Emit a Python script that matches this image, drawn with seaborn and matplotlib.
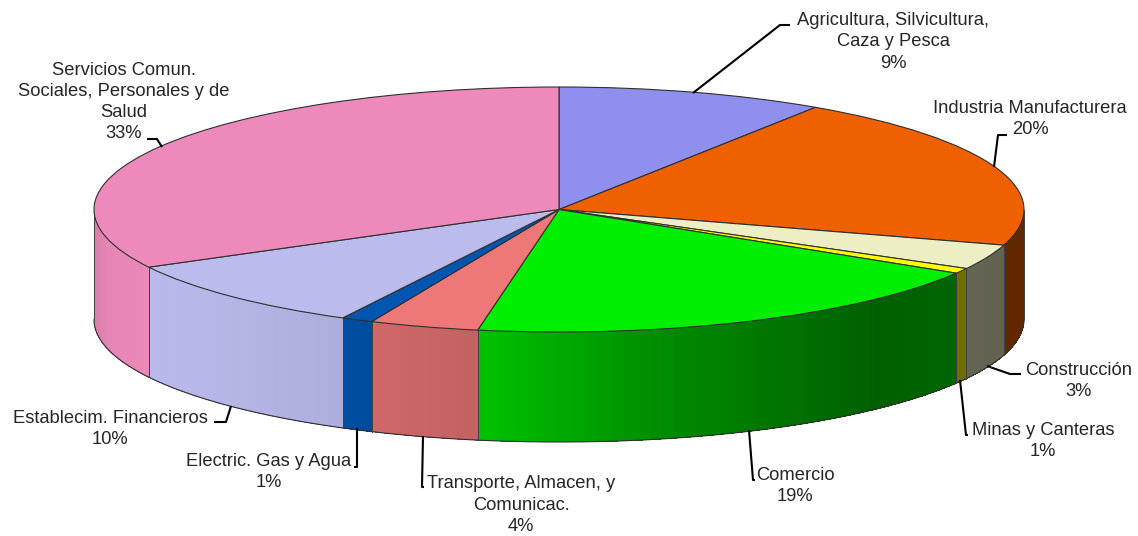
import numpy as np
import matplotlib
matplotlib.use('Agg')
import matplotlib.pyplot as plt
import seaborn as sns

# Share of each sector, clockwise from the top
sectors = ['Agricultura, Silvicultura,\nCaza y Pesca', 'Industria Manufacturera', 'Construcción',
           'Minas y Canteras', 'Comercio', 'Transporte, Almacen, y\nComunicac.',
           'Electric. Gas y Agua', 'Establecim. Financieros',
           'Servicios Comun.\nSociales, Personales y de\nSalud']
values = [9.3, 20.4, 3.3, 0.7, 19.1, 3.8, 1.1, 9.5, 32.8]
percent_labels = ['9%', '20%', '3%', '1%', '19%', '4%', '1%', '10%', '33%']
top_colors = ['#8F8FEE', '#EE6000', '#EEEEC4', '#FFFF00', '#00EE00', '#EE7777', '#0055B0', '#BBBBEE', '#EE8ABB']

# Label centres and leader lines, in pixels of the image
label_pos = [(893, 42), (1030, 119), (1079, 381), (1043, 441), (795, 486), (521, 505), (269, 472), (110, 429), (124, 102)]
leaders = [
    [(693, 93), (780, 25), (790, 25)],
    [(994, 167), (998, 135), (1007, 135)],
    [(987, 366), (1010, 374), (1021, 374)],
    [(960, 380), (966, 435), (968, 435)],
    [(749, 430), (753, 480), (755, 480)],
    [(423, 436), (422, 487), (424, 487)],
    [(357, 428), (357, 467), (354, 467)],
    [(231, 406), (226, 422), (214, 422)],
    [(162, 147), (157, 139), (147, 139)],
]

# Ellipse of the pie top in pixels
cx, cy, rx, ry, depth = 559, 209.5, 465, 122.5, 110

# How dark the wall gets along the image width
shade_x = [95, 110, 150, 342, 372, 477, 650, 880, 957, 1024]
shade_f = [0.92, 0.97, 0.99, 0.93, 0.87, 0.82, 0.6, 0.4, 0.43, 0.4]


def px(x, y):
    return (x - cx) / rx, (cy - y) / ry


sns.set_theme(style='white')
plt.rcParams['font.family'] = ['Liberation Sans', 'DejaVu Sans']

fig, ax = plt.subplots(figsize=(11.38, 5.36), dpi=100)
ax.set_position([0, 0, 1, 1])

palette = sns.color_palette(top_colors)
wedges, _ = ax.pie(values, colors=palette, startangle=90, counterclock=False,
                   wedgeprops={'edgecolor': '#303030', 'linewidth': 0.8, 'zorder': 3})
ax.set_aspect('auto')
ax.set_xlim(px(0, 0)[0], px(1138, 0)[0])
ax.set_ylim(px(0, 536)[1], px(0, 0)[1])

# Side wall of the pie, only the front half shows
h = depth / ry
edges = np.concatenate([[0], np.cumsum(values)]) * 3.6
for i, color in enumerate(palette):
    a0 = max(edges[i], 90)
    a1 = min(edges[i + 1], 270)
    if a1 <= a0:
        continue
    th = np.radians(np.linspace(a0, a1, max(int((a1 - a0) * 3), 2)))
    xs = np.sin(th)
    ys = np.cos(th)
    for j in range(len(th) - 1):
        f = np.interp(cx + rx * (xs[j] + xs[j + 1]) / 2, shade_x, shade_f)
        c = tuple(v * f for v in color)
        ax.fill([xs[j], xs[j + 1], xs[j + 1], xs[j]],
                [ys[j], ys[j + 1], ys[j + 1] - h, ys[j] - h],
                color=c, lw=0, antialiased=False, zorder=1)
    ax.plot(xs, ys - h, color='#303030', lw=0.8, zorder=2)
    for k in [0, -1]:
        ax.plot([xs[k], xs[k]], [ys[k], ys[k] - h], color='#404040', lw=0.7, zorder=2)

# Labels and leader lines
for name, pct, pos, line in zip(sectors, percent_labels, label_pos, leaders):
    lx, ly = px(*pos)
    ax.text(lx, ly, name + '\n' + pct, ha='center', va='center', fontsize=13.2,
            color='#262626', linespacing=1.33, zorder=5)
    pts = np.array([px(*p) for p in line])
    ax.plot(pts[:, 0], pts[:, 1], color='black', lw=1.5, zorder=4, solid_capstyle='butt')

fig.savefig('out.png', dpi=100, facecolor='white')
